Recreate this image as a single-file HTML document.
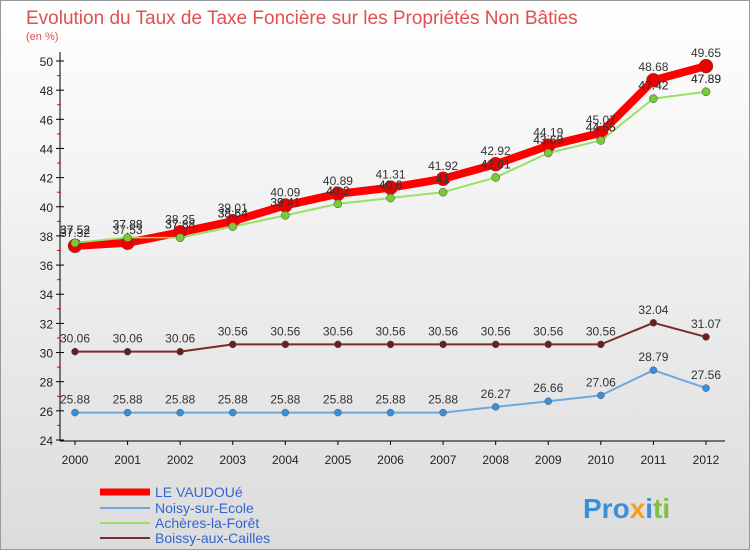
<!DOCTYPE html>
<html><head><meta charset="utf-8"><style>
body{margin:0;}
svg text{font-family:"Liberation Sans",sans-serif;}
</style></head><body>
<svg width="750" height="550" xmlns="http://www.w3.org/2000/svg">
<defs><linearGradient id="bg" x1="0" y1="0" x2="0" y2="1"><stop offset="0" stop-color="#ffffff"/><stop offset="1" stop-color="#dcdcdc"/></linearGradient></defs>
<rect x="0.5" y="0.5" width="749" height="549" fill="url(#bg)" stroke="#999"/>
<text x="26" y="24" font-size="19" fill="#e05050">Evolution du Taux de Taxe Foncière sur les Propriétés Non Bâties</text>
<text x="26" y="40" font-size="11" fill="#e05050">(en %)</text>
<g id="axes"></g><g id="series"></g>
<g>
<line x1="100" y1="492" x2="150" y2="492" stroke="#f00" stroke-width="7"/>
<text x="155" y="497" font-size="14" fill="#3366cc">LE VAUDOUé</text>
<line x1="100" y1="508" x2="150" y2="508" stroke="#6fa8dc" stroke-width="2"/>
<text x="155" y="513" font-size="14" fill="#3366cc">Noisy-sur-Ecole</text>
<line x1="100" y1="523" x2="150" y2="523" stroke="#99e066" stroke-width="2"/>
<text x="155" y="528" font-size="14" fill="#3366cc">Achères-la-Forêt</text>
<line x1="100" y1="538" x2="150" y2="538" stroke="#7a2b2b" stroke-width="2"/>
<text x="155" y="543" font-size="14" fill="#3366cc">Boissy-aux-Cailles</text>
</g>
<text x="583" y="518" font-size="28" font-weight="bold"><tspan fill="#3a8fd9">Pro</tspan><tspan fill="#f0a020">x</tspan><tspan fill="#3a8fd9">i</tspan><tspan fill="#80c040">ti</tspan></text>
</svg>
<script>
const years=[2000,2001,2002,2003,2004,2005,2006,2007,2008,2009,2010,2011,2012];
const yTicks=[24,26,28,30,32,34,36,38,40,42,44,46,48,50];
const vaudoue=[37.32,37.53,38.25,39.01,40.09,40.89,41.31,41.92,42.92,44.19,45.07,48.68,49.65];
const noisy=[25.88,25.88,25.88,25.88,25.88,25.88,25.88,25.88,26.27,26.66,27.06,28.79,27.56];
const acheres=[37.52,37.88,37.88,38.64,39.41,40.2,40.6,41,42.01,43.69,44.55,47.42,47.89];
const boissy=[30.06,30.06,30.06,30.56,30.56,30.56,30.56,30.56,30.56,30.56,30.56,32.04,31.07];
const NS="http://www.w3.org/2000/svg";
const xS=i=>75+i*(706-75)/12;
const yS=v=>440-(v-24)*(379/26);
function mk(p,t,a){const e=document.createElementNS(NS,t);for(const k in a)e.setAttribute(k,a[k]);p.appendChild(e);return e;}
const ax=document.getElementById('axes');
let l=mk(ax,'line',{x1:60,y1:52,x2:60,y2:441,stroke:'#000'});


l=mk(ax,'line',{x1:60,y1:441,x2:725,y2:441,stroke:'#000'});


yTicks.forEach(v=>{const y=yS(v);
 mk(ax,'line',{x1:56,y1:y,x2:64,y2:y,stroke:'#000'});
 const t=mk(ax,'text',{x:53,y:y+5,'font-size':12,'text-anchor':'end',fill:'#222'});t.textContent=v;
 
 
 if(v<50)mk(ax,'line',{x1:57,y1:yS(v+1),x2:61,y2:yS(v+1),stroke:'#e00'});
});
years.forEach((yr,i)=>{const x=xS(i);
 mk(ax,'line',{x1:x,y1:441,x2:x,y2:445,stroke:'#000'});
 const t=mk(ax,'text',{x:x,y:464,'font-size':12,'text-anchor':'middle',fill:'#222'});t.textContent=yr;
 
 
});
const sg=document.getElementById('series');
function draw(name,data,color,w,r,fill){
 const g=mk(sg,'g',{});
 
 
 const pl=mk(g,'polyline',{points:data.map((v,i)=>xS(i)+','+yS(v)).join(' '),fill:'none',stroke:color,'stroke-width':w,'stroke-linejoin':'round'});
 
 
 data.forEach((v,i)=>{
  const c=mk(g,'circle',{cx:xS(i),cy:yS(v),r:r,fill:fill,stroke:'#555','stroke-width':0.5});
  
  
  const t=mk(g,'text',{x:xS(i),y:yS(v)-9,'font-size':12,'text-anchor':'middle',fill:'#333'});t.textContent=v;
  
  
 });
}
draw('noisy',noisy,'#6fa8dc',2,3.5,'#3a8fd9');
draw('boissy',boissy,'#7a2b2b',2,3.5,'#6b1e1e');
draw('acheres',acheres,'#99e066',2,4,'#77cc33');
draw('vaudoue',vaudoue,'#ff0000',8,7,'#ee0000');
// re-draw acheres on top like reference
draw('acheres',acheres,'#99e066',1.5,4,'#77cc33');
</script>
</body></html>
